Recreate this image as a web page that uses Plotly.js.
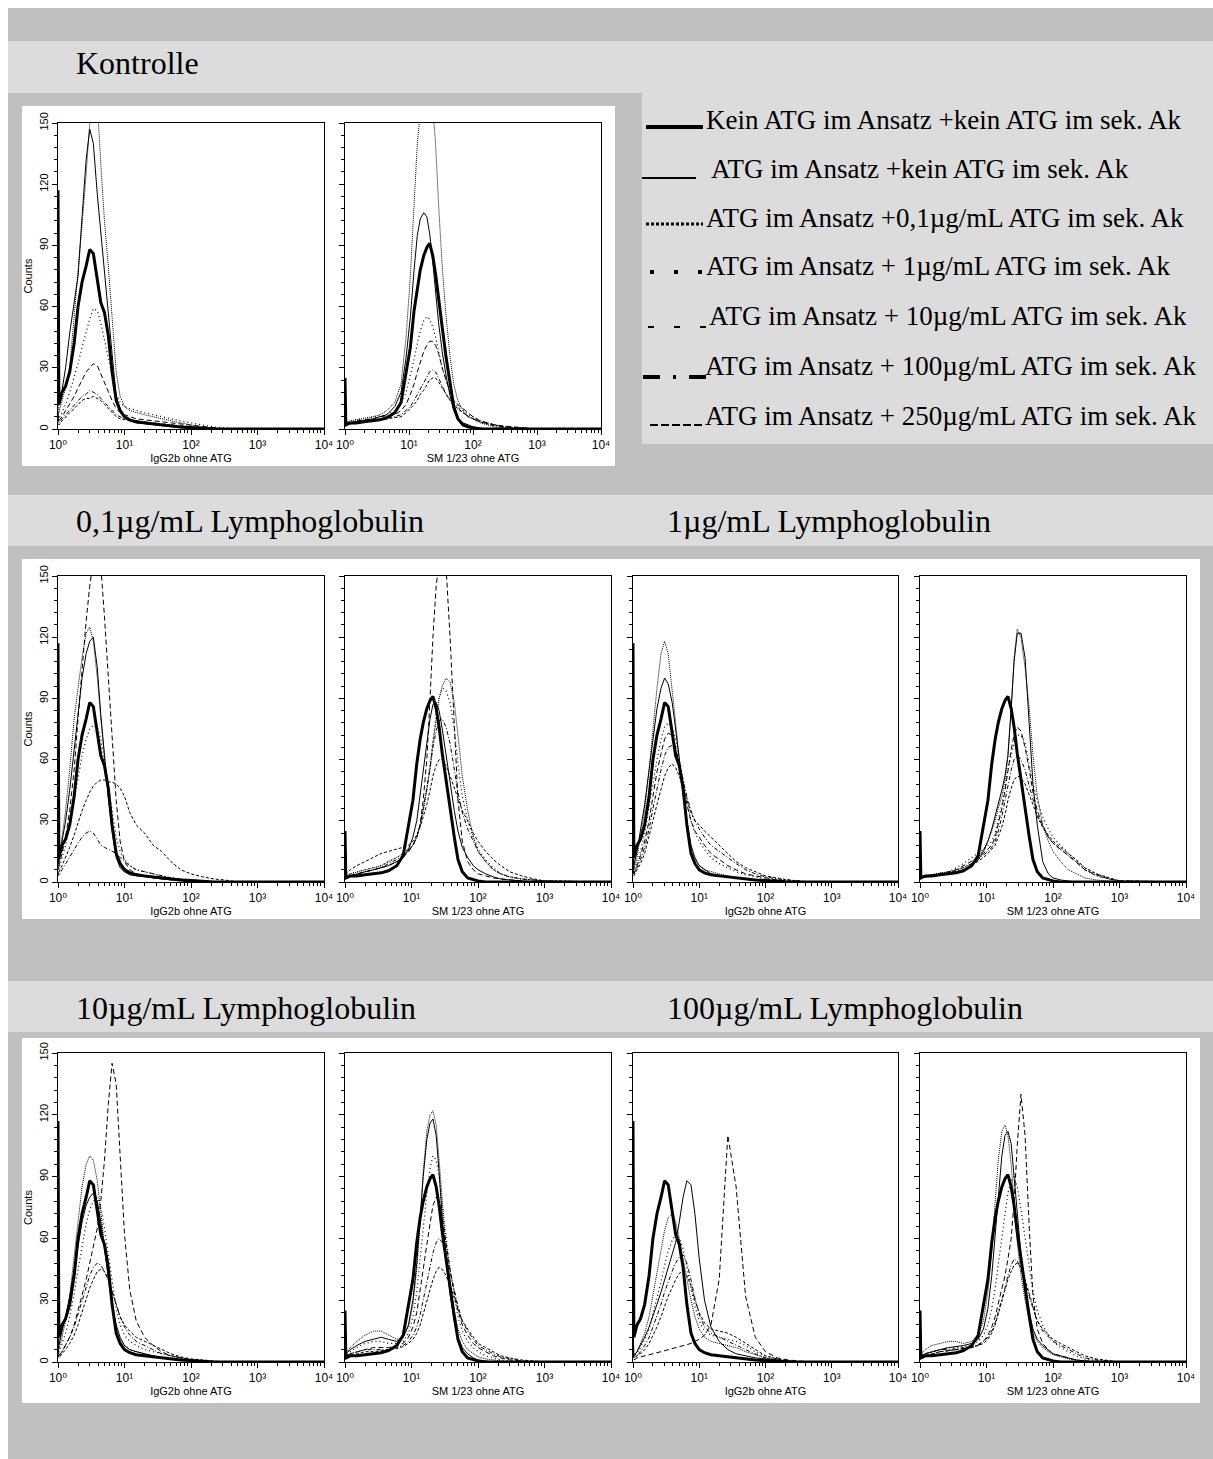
<!DOCTYPE html>
<html><head><meta charset="utf-8">
<script src="https://cdn.plot.ly/plotly-3.0.1.min.js"></script>
<style>html,body{margin:0;padding:0;background:#fff;}#chart{width:1213px;height:1459px;}</style>
</head><body><div id="chart"></div>
<script>
// ---------- x grids (fluorescence channel values) ----------
const xI = [1, 1.03, 1.15, 1.3, 1.5, 1.75, 2, 2.3, 2.65, 3, 3.4, 3.9, 4.4, 5, 5.7, 6.5, 7.5, 8.6, 10, 12, 15, 20, 27, 36, 50, 70, 100, 150, 220, 320, 500, 10000];
const xS = [1, 1.03, 1.2, 1.5, 2, 2.7, 3.5, 4.5, 6, 7.5, 9, 10.5, 12, 13.5, 15, 17, 19, 21, 23.5, 26, 29, 33, 38, 44, 50, 58, 70, 85, 100, 130, 170, 220, 300, 450, 700, 1000, 10000];

// ---------- reference curve (Kein ATG) ----------
const thickI = [117, 12, 18, 21, 28, 42, 60, 72, 80, 88, 86, 72, 62, 57, 46, 28, 14, 9, 6, 4.5, 3.5, 3, 2.5, 2, 1.5, 1, 0.7, 0.3, 0, 0, 0, 0];
const thickS = [25, 2, 3, 3, 3.5, 4, 4.5, 5.5, 8, 13, 27, 40, 58, 70, 78, 85, 89, 91, 85, 76, 63, 50, 35, 22, 11, 5, 2, 1, 0.5, 0, 0, 0, 0, 0, 0, 0, 0];

// ---------- Kontrolle, IgG2b ----------
const k1_thin = [63, 12, 19, 30, 47, 62, 75, 104, 132, 147, 140, 115, 96, 75, 55, 37, 16, 10, 6, 4, 3, 2.5, 2, 1.5, 1, 0.6, 0.3, 0, 0, 0, 0, 0];
const k1_dot = [50, 8, 14, 20, 30, 55, 75, 100, 125, 150, 160, 160, 130, 102, 80, 55, 28, 16, 11, 9, 8, 7, 6, 5, 4, 3, 2, 1, 0.5, 0, 0, 0];
const k1_sdot = [10, 5, 8, 12, 18, 25, 32, 40, 48, 54, 59, 58, 52, 44, 35, 26, 17, 13, 11, 10, 9, 8, 7, 6, 5, 4, 3, 2, 1, 0.5, 0, 0];
const k1_udash = [8, 4, 6, 9, 12, 16, 20, 24, 28, 30, 32, 31, 27, 23, 18, 14, 10, 8, 7, 6, 5, 4.5, 4, 3.5, 3, 2.5, 2, 1, 0.5, 0, 0, 0];
const k1_dashdot = [6, 3, 5, 7, 9, 12, 14, 16, 17, 19, 18, 17, 15, 13, 11, 9, 7, 6, 5, 4.5, 4, 3.5, 3, 2.5, 2, 1.5, 1, 0.5, 0, 0, 0, 0];
const k1_dash = [5, 2, 4, 6, 8, 10, 12, 14, 15, 15, 16, 15, 14, 12, 10, 8, 6, 5, 4.5, 4, 3.5, 3, 2.5, 2, 1.5, 1, 0.7, 0.3, 0, 0, 0, 0];
// ---------- Kontrolle, SM 1/23 ----------
const k2_thin = [10, 2, 3, 3.5, 4, 5, 6, 7, 11, 18, 35, 55, 78, 95, 103, 106, 104, 96, 82, 68, 52, 38, 26, 16, 9, 5, 3, 2, 1, 0.5, 0, 0, 0, 0, 0, 0, 0];
const k2_dot = [5, 3, 4, 4.5, 5, 6, 7, 9, 13, 22, 45, 75, 110, 140, 155, 160, 160, 160, 158, 140, 110, 80, 55, 35, 22, 14, 9, 6, 5, 3, 2, 1, 0.5, 0, 0, 0, 0];
const k2_sdot = [4, 3, 4, 4.5, 5, 6, 6.5, 7, 9, 12, 18, 26, 34, 42, 48, 53, 55, 54, 50, 45, 38, 30, 24, 18, 14, 11, 9, 7, 6, 4, 3, 2, 1, 0.5, 0, 0, 0];
const k2_udash = [4, 2, 3, 4, 4.5, 5, 6, 6.5, 7, 9, 12, 17, 22, 28, 33, 38, 41, 43, 43, 41, 37, 30, 24, 18, 14, 12, 10, 8, 6, 4, 3, 2, 1.5, 1, 0.5, 0, 0];
const k2_dashdot = [3, 2, 3, 3.5, 4, 4.5, 5, 5.5, 6, 7, 9, 11, 14, 17, 20, 23, 26, 28, 29, 28, 25, 21, 17, 14, 12, 10, 8, 6, 5, 3.5, 2.5, 1.5, 1, 0.5, 0.3, 0, 0];
const k2_dash = [2, 2, 2.5, 3, 3.5, 4, 4.5, 5, 5.5, 6, 8, 10, 12, 14, 17, 19, 22, 24, 25, 25, 23, 20, 17, 14, 12, 10, 8, 6, 5, 3.5, 2.5, 2, 1, 0.5, 0.3, 0, 0];

// ---------- 0,1 µg/mL, IgG2b ----------
const a1_thin = [62, 10, 20, 30, 45, 65, 82, 100, 112, 118, 120, 105, 82, 62, 42, 25, 12, 7, 5, 3.5, 3, 2.5, 2, 1.5, 1, 0.5, 0.3, 0, 0, 0, 0, 0];
const a1_dot = [50, 10, 22, 35, 55, 80, 95, 110, 122, 125, 118, 100, 80, 60, 42, 28, 15, 10, 7, 5, 4, 3, 2.5, 2, 1.5, 1, 0.5, 0, 0, 0, 0, 0];
const a1_sdot = [20, 6, 12, 18, 28, 40, 52, 62, 70, 75, 77, 76, 70, 60, 48, 35, 22, 15, 11, 8, 6, 5, 4, 3, 2, 1.5, 1, 0.5, 0, 0, 0, 0];
const a1_udash = [40, 8, 14, 22, 35, 55, 80, 105, 128, 145, 158, 160, 155, 130, 100, 72, 40, 20, 10, 6, 4, 3, 2, 1.5, 1, 0.5, 0, 0, 0, 0, 0, 0];
const a1_dashdot = [5, 3, 6, 9, 12, 16, 19, 22, 24, 25, 24, 21, 18, 17, 16, 15, 14, 12, 10, 8, 6, 5, 4, 3, 2, 1.5, 1, 0.5, 0, 0, 0, 0];
const a1_dash = [15, 5, 8, 12, 17, 23, 29, 35, 40, 44, 47, 49, 50, 50, 49, 49, 48, 46, 42, 34, 28, 24, 18, 15, 10, 6, 4, 2.5, 1.5, 1, 0, 0];
// ---------- 0,1 µg/mL, SM 1/23 ----------
const a2_thin = [20, 2, 3, 4, 5, 6, 7, 8, 10, 12, 16, 22, 30, 42, 55, 68, 80, 87, 88, 84, 75, 62, 48, 35, 25, 17, 12, 8, 6, 4, 2.5, 1.5, 1, 0.5, 0, 0, 0];
const a2_dot = [8, 3, 4, 5, 6, 7, 8, 10, 12, 14, 16, 18, 22, 28, 35, 45, 55, 68, 80, 90, 96, 100, 98, 88, 72, 52, 35, 22, 15, 10, 6, 4, 2.5, 1.5, 1, 0.5, 0];
const a2_sdot = [5, 3, 4, 5, 6, 7, 8, 10, 12, 14, 16, 18, 22, 28, 35, 45, 58, 70, 82, 90, 95, 94, 88, 75, 58, 42, 30, 22, 16, 11, 7, 4, 2.5, 1.5, 1, 0.5, 0];
const a2_udash = [15, 2, 3, 4, 5, 6, 7, 8, 10, 12, 15, 18, 22, 28, 40, 60, 90, 120, 145, 158, 160, 155, 120, 75, 40, 20, 10, 6, 4, 3, 2, 1.5, 1, 0.5, 0, 0, 0];
const a2_dashdot = [4, 2, 3, 4, 5, 6, 7, 9, 11, 13, 15, 18, 22, 28, 36, 46, 56, 66, 74, 79, 80, 76, 68, 56, 44, 34, 26, 20, 15, 10, 6, 4, 2.5, 1.5, 1, 0.5, 0];
const a2_dash = [4, 4, 6, 8, 10, 12, 14, 15, 16, 17, 18, 20, 23, 27, 32, 38, 45, 52, 57, 60, 60, 57, 52, 46, 40, 35, 30, 24, 20, 15, 11, 8, 5, 3, 1.5, 0.5, 0];

// ---------- 1 µg/mL, IgG2b ----------
const b1_thin = [40, 8, 15, 25, 38, 55, 70, 85, 95, 100, 97, 88, 75, 60, 45, 30, 18, 12, 8, 6, 4, 3, 2.5, 2, 1.5, 1, 0.5, 0, 0, 0, 0, 0];
const b1_dot = [30, 6, 12, 22, 35, 55, 75, 95, 112, 118, 112, 95, 78, 60, 42, 28, 16, 11, 8, 6, 5, 4, 3, 2, 1.5, 1, 0.5, 0, 0, 0, 0, 0];
const b1_sdot = [15, 5, 9, 15, 24, 36, 48, 60, 70, 76, 78, 76, 70, 60, 50, 40, 30, 24, 20, 16, 12, 9, 7, 5, 3.5, 2.5, 1.5, 1, 0.5, 0, 0, 0];
const b1_udash = [12, 4, 8, 13, 20, 30, 42, 54, 63, 70, 73, 72, 66, 58, 48, 38, 30, 25, 22, 18, 14, 11, 8, 6, 4, 3, 2, 1, 0.5, 0, 0, 0];
const b1_dashdot = [10, 4, 7, 11, 17, 26, 36, 46, 55, 62, 66, 67, 64, 58, 50, 42, 35, 30, 26, 22, 18, 15, 12, 9, 6, 4, 2.5, 1.5, 1, 0.5, 0, 0];
const b1_dash = [8, 3, 6, 9, 14, 22, 30, 38, 46, 52, 56, 58, 56, 52, 46, 40, 34, 30, 28, 25, 22, 18, 14, 10, 7, 5, 3, 2, 1, 0.5, 0, 0];
// ---------- 1 µg/mL, SM 1/23 ----------
const b2_thin = [12, 2, 2.5, 3, 3.5, 4, 5, 6, 8, 11, 15, 20, 26, 32, 38, 45, 52, 62, 85, 108, 122, 122, 110, 75, 48, 28, 10, 4, 2, 1, 0.5, 0, 0, 0, 0, 0, 0];
const b2_dot = [8, 2, 3, 3.5, 4, 5, 6, 7, 9, 12, 16, 20, 25, 30, 36, 42, 50, 62, 85, 110, 124, 120, 105, 85, 62, 42, 28, 20, 15, 10, 6, 4, 2, 1, 0.5, 0, 0];
const b2_sdot = [6, 2, 3, 3.5, 4, 5, 7, 9, 12, 14, 16, 18, 20, 24, 30, 38, 46, 55, 62, 68, 72, 72, 68, 58, 48, 40, 32, 26, 22, 18, 14, 11, 7, 4, 2, 0.5, 0];
const b2_udash = [5, 2, 3, 3.5, 4, 5, 6, 8, 10, 12, 14, 16, 18, 22, 28, 36, 45, 55, 65, 72, 76, 74, 66, 55, 44, 35, 28, 22, 19, 16, 13, 10, 6, 3.5, 1.5, 0.5, 0];
const b2_dashdot = [4, 2, 2.5, 3, 3.5, 4.5, 5.5, 7, 9, 11, 13, 15, 17, 20, 25, 32, 40, 48, 55, 60, 62, 60, 55, 47, 40, 33, 27, 22, 19, 16, 13, 10, 6, 3, 1.5, 0.5, 0];
const b2_dash = [3, 2, 2.5, 3, 3.5, 4, 5, 6, 8, 10, 12, 14, 16, 18, 22, 27, 33, 40, 46, 50, 52, 51, 48, 43, 38, 32, 27, 23, 20, 17, 14, 11, 7, 4, 2, 0.5, 0];

// ---------- 10 µg/mL, IgG2b ----------
const c1_thin = [60, 8, 15, 22, 32, 45, 58, 68, 76, 80, 82, 78, 68, 55, 40, 28, 18, 12, 8, 6, 5, 4, 3, 2, 1.5, 1, 0.5, 0, 0, 0, 0, 0];
const c1_dot = [30, 6, 12, 20, 32, 50, 68, 85, 96, 100, 98, 88, 72, 55, 40, 27, 16, 11, 8, 6, 5, 4, 3, 2, 1.5, 1, 0.5, 0, 0, 0, 0, 0];
const c1_sdot = [15, 5, 9, 14, 22, 33, 45, 57, 67, 74, 78, 80, 75, 65, 52, 38, 26, 18, 13, 10, 8, 6, 5, 4, 3, 2, 1, 0.5, 0, 0, 0, 0];
const c1_udash = [10, 3, 5, 8, 12, 18, 25, 32, 40, 48, 56, 65, 78, 98, 125, 145, 135, 100, 62, 35, 20, 12, 8, 5, 3, 2, 1, 0.5, 0, 0, 0, 0];
const c1_dashdot = [8, 3, 5, 8, 12, 17, 23, 30, 36, 42, 46, 48, 47, 44, 40, 34, 28, 22, 17, 13, 10, 8, 6, 4, 3, 2, 1, 0.5, 0, 0, 0, 0];
const c1_dash = [6, 2, 4, 6, 9, 13, 18, 24, 30, 36, 40, 44, 45, 44, 40, 34, 28, 22, 18, 15, 12, 10, 8, 6, 4, 2.5, 1.5, 1, 0.5, 0, 0, 0];
// ---------- 10 µg/mL, SM 1/23 ----------
const c2_thin = [15, 4, 6, 8, 10, 11, 12, 11, 10, 12, 18, 30, 48, 70, 90, 108, 116, 118, 110, 92, 70, 50, 33, 20, 12, 7, 4, 2, 1, 0.5, 0, 0, 0, 0, 0, 0, 0];
const c2_dot = [10, 4, 7, 10, 13, 15, 15, 13, 11, 12, 17, 28, 45, 68, 92, 112, 120, 122, 115, 98, 76, 55, 38, 25, 16, 10, 6, 4, 2.5, 1.5, 1, 0.5, 0, 0, 0, 0, 0];
const c2_sdot = [8, 3, 5, 7, 9, 10, 10, 9, 9, 10, 14, 22, 34, 50, 66, 82, 94, 100, 98, 90, 76, 60, 45, 32, 22, 15, 10, 7, 5, 3, 2, 1, 0.5, 0, 0, 0, 0];
const c2_udash = [6, 3, 4, 5, 6, 7, 7, 7, 8, 9, 12, 17, 24, 34, 45, 57, 68, 76, 80, 78, 70, 58, 45, 34, 25, 18, 13, 9, 7, 5, 3, 2, 1, 0.5, 0, 0, 0];
const c2_dashdot = [5, 3, 4, 5, 6, 6, 6, 6, 7, 8, 10, 13, 17, 23, 30, 38, 46, 53, 58, 60, 58, 52, 44, 35, 27, 20, 15, 11, 8, 6, 4, 2.5, 1.5, 0.5, 0, 0, 0];
const c2_dash = [4, 2, 3, 4, 5, 5, 5.5, 6, 6.5, 7.5, 9, 11, 14, 18, 23, 29, 35, 40, 44, 46, 45, 42, 37, 31, 25, 20, 16, 12, 9, 7, 5, 3, 2, 1, 0.5, 0, 0];

// ---------- 100 µg/mL, IgG2b ----------
const d1_thin = [20, 3, 5, 8, 12, 17, 22, 28, 34, 40, 46, 52, 58, 68, 80, 88, 86, 72, 50, 30, 17, 10, 6, 4, 3, 2, 1.5, 1, 0.5, 0, 0, 0];
const d1_dot = [12, 3, 5, 9, 14, 22, 32, 44, 55, 64, 70, 72, 68, 60, 50, 40, 30, 22, 16, 12, 10, 9, 8, 7, 5, 3.5, 2, 1, 0.5, 0, 0, 0];
const d1_sdot = [10, 3, 4, 7, 11, 16, 23, 31, 39, 47, 54, 59, 62, 60, 55, 46, 36, 27, 20, 15, 13, 12, 11, 10, 8, 5, 3, 1.5, 0.5, 0, 0, 0];
const d1_udash = [5, 1, 2, 2.5, 3, 3.5, 4, 4.5, 5, 5.5, 6, 6.5, 7, 7.5, 8, 8.5, 9, 10, 11, 13, 18, 40, 110, 85, 32, 12, 5, 2, 1, 0.5, 0, 0];
const d1_dashdot = [8, 2, 3, 5, 8, 12, 17, 22, 28, 34, 39, 44, 48, 51, 52, 48, 40, 31, 23, 17, 14, 12, 10, 8, 6, 4, 2, 1, 0.5, 0, 0, 0];
const d1_dash = [6, 2, 3, 4, 6, 9, 13, 17, 22, 27, 32, 36, 40, 43, 44, 42, 37, 30, 24, 19, 16, 15, 14, 12, 9, 6, 3, 1.5, 0.5, 0, 0, 0];
// ---------- 100 µg/mL, SM 1/23 ----------
const d2_thin = [12, 3, 4, 5, 6, 7, 7.5, 8, 9, 11, 16, 26, 42, 62, 82, 100, 110, 112, 106, 90, 70, 52, 36, 24, 16, 11, 8, 6, 4, 3, 2, 1, 0.5, 0, 0, 0, 0];
const d2_dot = [10, 4, 6, 8, 9, 10, 10, 9, 10, 13, 20, 34, 55, 78, 98, 112, 115, 110, 96, 78, 58, 42, 30, 20, 14, 10, 7, 5, 3.5, 2.5, 1.5, 1, 0.5, 0, 0, 0, 0];
const d2_sdot = [6, 3, 4, 5, 6, 7, 7, 7.5, 8, 10, 13, 18, 26, 36, 48, 60, 72, 82, 88, 90, 85, 74, 60, 46, 34, 25, 18, 13, 10, 7, 5, 3, 1.5, 0.5, 0, 0, 0];
const d2_udash = [5, 2, 3, 4, 5, 5.5, 6, 6.5, 7, 8, 10, 13, 17, 22, 28, 35, 42, 50, 60, 78, 105, 130, 110, 65, 32, 16, 9, 6, 4, 3, 2, 1, 0.5, 0, 0, 0, 0];
const d2_dashdot = [5, 3, 4, 5, 6, 6, 6.5, 7, 7.5, 8.5, 10, 12, 15, 19, 24, 30, 36, 42, 47, 50, 49, 45, 39, 32, 26, 20, 15, 12, 10, 8, 6, 4, 2, 1, 0.5, 0, 0];
const d2_dash = [4, 2, 3, 4, 5, 5.5, 6, 6.5, 7, 8, 9, 11, 14, 18, 23, 29, 35, 40, 44, 47, 48, 46, 40, 33, 26, 20, 16, 13, 11, 9, 7, 5, 3, 1.5, 0.5, 0, 0];

// ---------- text ----------
const xTitles = ['IgG2b ohne ATG', 'SM 1/23 ohne ATG'];
const xTickVals = [1, 10, 100, 1000, 10000];
const xTickText = ['10⁰', '10¹', '10²', '10³', '10⁴'];
const yTickVals = [0, 30, 60, 90, 120, 150];
const yTickText = ['0', '30', '60', '90', '120', '150'];
const bandTitles = ['Kontrolle', '0,1µg/mL Lymphoglobulin', '1µg/mL Lymphoglobulin', '10µg/mL Lymphoglobulin', '100µg/mL Lymphoglobulin'];
const legendTexts = ['Kein ATG im Ansatz +kein ATG im sek. Ak', 'ATG im Ansatz +kein ATG im sek. Ak', 'ATG im Ansatz +0,1µg/mL ATG im sek. Ak', 'ATG im Ansatz + 1µg/mL ATG im sek. Ak', 'ATG im Ansatz + 10µg/mL ATG im sek. Ak', 'ATG im Ansatz + 100µg/mL ATG im sek. Ak', 'ATG im Ansatz + 250µg/mL ATG im sek. Ak'];

// ---------- layout / styles ----------
const W = 1213, H = 1459;
const PX = v => v / W, PY = v => 1 - v / H;
const LS = {
  thick: {width: 3, dash: 'solid'},
  thin: {width: 1, dash: 'solid'},
  dot: {width: 1, dash: '1px,1px'},
  sdot: {width: 1.2, dash: '1px,3px'},
  udash: {width: 1, dash: '5px,3px'},
  dashdot: {width: 1, dash: '4px,2px,1px,2px'},
  dash: {width: 1, dash: '3px,2px'}
};
const panels = [
  {x: [58, 324], y: [123, 429], grid: xI, ref: thickI, t: 0, left: true, s: [k1_thin, k1_dot, k1_sdot, k1_udash, k1_dashdot, k1_dash]},
  {x: [345, 601], y: [123, 429], grid: xS, ref: thickS, t: 1, left: false, s: [k2_thin, k2_dot, k2_sdot, k2_udash, k2_dashdot, k2_dash]},
  {x: [58, 324], y: [576, 882], grid: xI, ref: thickI, t: 0, left: true, s: [a1_thin, a1_dot, a1_sdot, a1_udash, a1_dashdot, a1_dash]},
  {x: [345, 611], y: [576, 882], grid: xS, ref: thickS, t: 1, left: false, s: [a2_thin, a2_dot, a2_sdot, a2_udash, a2_dashdot, a2_dash]},
  {x: [633, 898], y: [576, 882], grid: xI, ref: thickI, t: 0, left: false, s: [b1_thin, b1_dot, b1_sdot, b1_udash, b1_dashdot, b1_dash]},
  {x: [920, 1186], y: [576, 882], grid: xS, ref: thickS, t: 1, left: false, s: [b2_thin, b2_dot, b2_sdot, b2_udash, b2_dashdot, b2_dash]},
  {x: [58, 324], y: [1053, 1362], grid: xI, ref: thickI, t: 0, left: true, s: [c1_thin, c1_dot, c1_sdot, c1_udash, c1_dashdot, c1_dash]},
  {x: [345, 611], y: [1053, 1362], grid: xS, ref: thickS, t: 1, left: false, s: [c2_thin, c2_dot, c2_sdot, c2_udash, c2_dashdot, c2_dash]},
  {x: [633, 898], y: [1053, 1362], grid: xI, ref: thickI, t: 0, left: false, s: [d1_thin, d1_dot, d1_sdot, d1_udash, d1_dashdot, d1_dash]},
  {x: [920, 1186], y: [1053, 1362], grid: xS, ref: thickS, t: 1, left: false, s: [d2_thin, d2_dot, d2_sdot, d2_udash, d2_dashdot, d2_dash]}
];
const styleOrder = ['thin', 'dot', 'sdot', 'udash', 'dashdot', 'dash'];
const smallFont = {family: '"Liberation Sans", Arial, sans-serif', size: 11, color: '#000'};
const tickFontX = {family: '"Liberation Sans", "DejaVu Sans", Arial, sans-serif', size: 12, color: '#000'};
const minorX = [];
[1, 10, 100, 1000].forEach(d => { for (let k = 2; k <= 9; k++) minorX.push(k * d); });

const traces = [];
const layout = {
  width: W, height: H, margin: {l: 0, r: 0, t: 0, b: 0},
  paper_bgcolor: '#ffffff', plot_bgcolor: 'rgba(0,0,0,0)', showlegend: false,
  shapes: [], annotations: []
};
panels.forEach((p, i) => {
  const n = i + 1, sfx = n === 1 ? '' : String(n);
  p.s.forEach((arr, j) => {
    traces.push({x: p.grid, y: arr, type: 'scatter', mode: 'lines', xaxis: 'x' + sfx, yaxis: 'y' + sfx,
      line: {color: '#000', width: LS[styleOrder[j]].width, dash: LS[styleOrder[j]].dash}, hoverinfo: 'skip'});
  });
  traces.push({x: p.grid, y: p.ref, type: 'scatter', mode: 'lines', xaxis: 'x' + sfx, yaxis: 'y' + sfx,
    line: {color: '#000', width: LS.thick.width}, hoverinfo: 'skip'});
  layout['xaxis' + sfx] = {
    type: 'log', range: [0, 4], domain: [PX(p.x[0]), PX(p.x[1])], anchor: 'y' + sfx,
    tickmode: 'array', tickvals: xTickVals, ticktext: xTickText, ticks: 'outside', ticklen: 5, tickwidth: 1, tickcolor: '#000',
    minor: {tickmode: 'array', tickvals: minorX, ticks: 'outside', ticklen: 3, tickwidth: 1, tickcolor: '#000', showgrid: false},
    showline: true, linecolor: '#000', linewidth: 1, mirror: true, showgrid: false, zeroline: false,
    tickfont: tickFontX, title: {text: xTitles[p.t], font: smallFont, standoff: 2}, fixedrange: true, automargin: false
  };
  const ya = {
    range: [0, 150], domain: [PY(p.y[1]), PY(p.y[0])], anchor: 'x' + sfx,
    tickmode: 'array', tickvals: yTickVals, ticktext: yTickText, showticklabels: p.left, tickangle: -90,
    ticks: 'outside', ticklen: 5, tickwidth: 1, tickcolor: '#000',
    minor: {dtick: 6, ticks: 'outside', ticklen: 3, tickwidth: 1, tickcolor: '#000', showgrid: false},
    showline: true, linecolor: '#000', linewidth: 1, mirror: true, showgrid: false, zeroline: false,
    tickfont: smallFont, fixedrange: true, automargin: false
  };
  if (p.left) ya.title = {text: 'Counts', font: smallFont, standoff: 2};
  layout['yaxis' + sfx] = ya;
});

// background blocks (pixel coords)
const rect = (x0, y0, x1, y1, c) => layout.shapes.push({type: 'rect', xref: 'paper', yref: 'paper', layer: 'below',
  x0: PX(x0), x1: PX(x1), y0: PY(y1), y1: PY(y0), fillcolor: c, line: {width: 0}});
rect(8, 8, W, H, '#c0c0c0');
rect(8, 41, W, 93, '#dcdcdc');
rect(642, 93, W, 444, '#dcdcdc');
rect(22, 106, 615, 466, '#ffffff');
rect(8, 495, W, 546, '#dcdcdc');
rect(22, 559, 1200, 919, '#ffffff');
rect(8, 981, W, 1032, '#dcdcdc');
rect(22, 1038, 1200, 1403, '#ffffff');

// band titles
const serif = '"Liberation Serif", "Times New Roman", Times, serif';
[[74, 63], [74, 521], [665, 521], [74, 1008], [665, 1008]].forEach((pos, i) => {
  layout.annotations.push({xref: 'paper', yref: 'paper', x: PX(pos[0]), y: PY(pos[1]), xanchor: 'left', yanchor: 'middle',
    text: bandTitles[i], showarrow: false, font: {family: serif, size: 32, color: '#000'}});
});

// legend (text + line samples)
const legY = [120, 169, 218, 266, 316, 366, 416];
const legX = [704, 709, 704, 704, 707, 703, 703];
const sampleDefs = [
  {x: [646, 703], y: 127, w: 4, dash: 'solid'},
  {x: [642, 696], y: 178, w: 2, dash: 'solid'},
  {x: [646, 703], y: 224, w: 3, dash: '3px,2px'},
  {x: [650, 705], y: 272, w: 4, dash: '4px,20px'},
  {x: [648, 708], y: 327, w: 2, dash: '6px,20px'},
  {x: [643, 706], y: 377, w: 4, dash: '17px,13px,3px,13px'},
  {x: [650, 704], y: 425, w: 2, dash: '8px,3px'}
];
legendTexts.forEach((t, i) => {
  layout.annotations.push({xref: 'paper', yref: 'paper', x: PX(legX[i]), y: PY(legY[i]), xanchor: 'left', yanchor: 'middle',
    text: t, showarrow: false, font: {family: serif, size: 27, color: '#000'}});
  const s = sampleDefs[i];
  layout.shapes.push({type: 'line', xref: 'paper', yref: 'paper', x0: PX(s.x[0]), x1: PX(s.x[1]), y0: PY(s.y), y1: PY(s.y),
    line: {color: '#000', width: s.w, dash: s.dash}});
});

Plotly.newPlot('chart', traces, layout, {displayModeBar: false, staticPlot: true});
</script></body></html>
